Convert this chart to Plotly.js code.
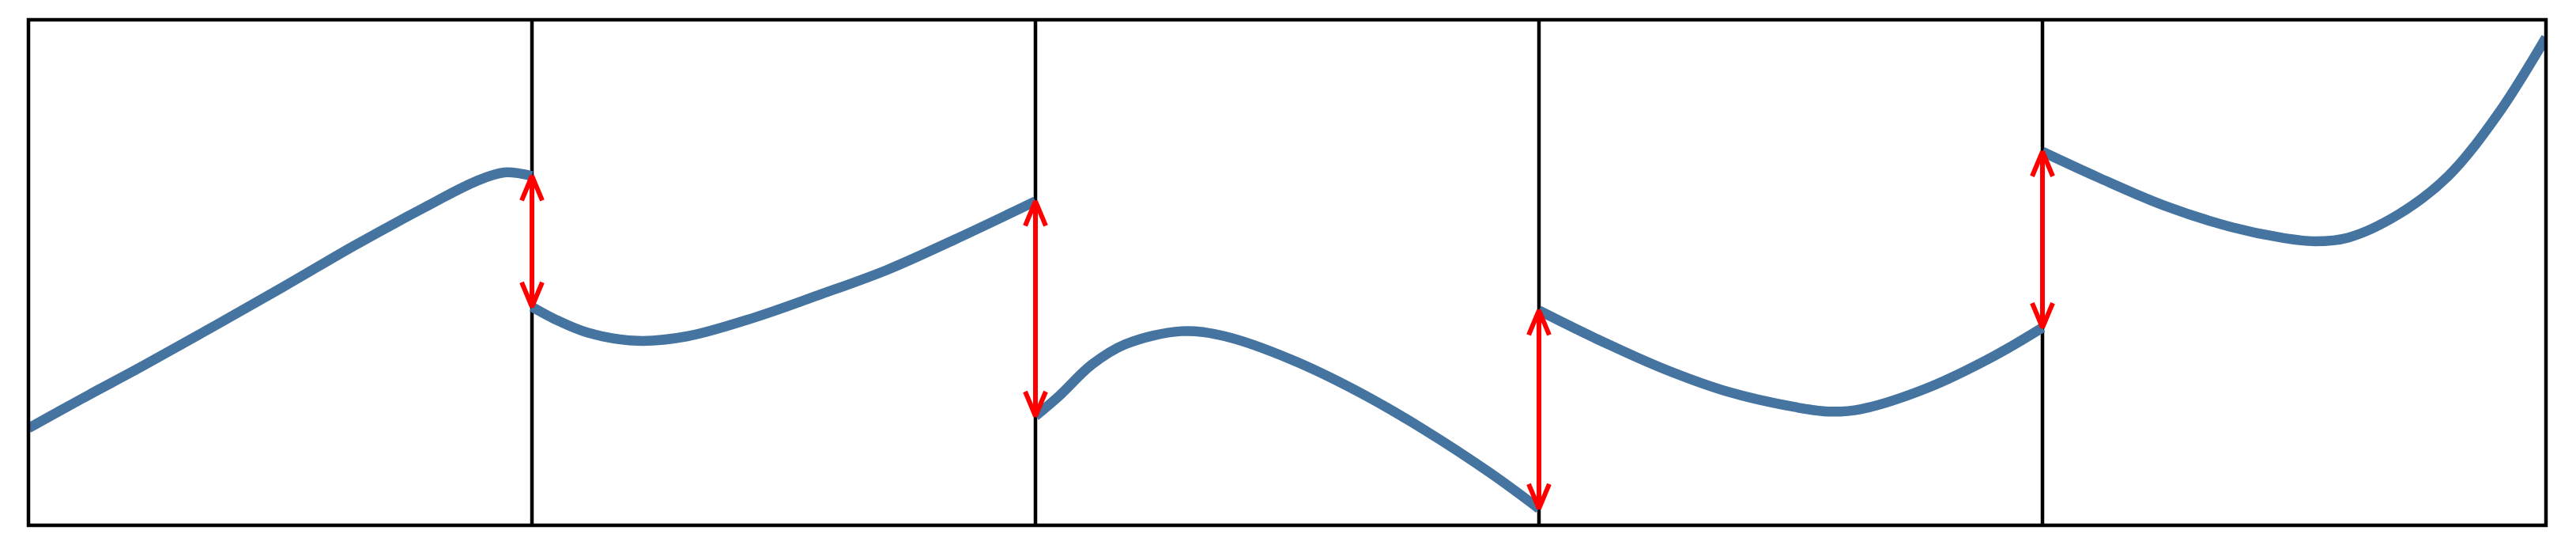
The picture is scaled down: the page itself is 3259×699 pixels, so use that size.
<!DOCTYPE html>
<html>
<head>
<meta charset="utf-8">
<script src="https://cdn.plot.ly/plotly-3.0.1.min.js"></script>
<style>
  html, body { margin: 0; padding: 0; background: #ffffff; }
  #chart { width: 3259px; height: 699px; }
</style>
</head>
<body>
<div id="chart"></div>
<script>
// ---- data ----
// position inside each panel (0 = left edge, 1 = right edge) and curve value (0 = bottom, 1 = top)
const seg1U = [0, 0.12, 0.225, 0.505, 0.645, 0.785, 0.890, 0.945, 1.0];
const seg1Y = [0.192, 0.258, 0.314, 0.471, 0.552, 0.628, 0.681, 0.698, 0.691];

const seg2U = [0, 0.045, 0.111, 0.210, 0.309, 0.442, 0.574, 0.707, 0.839, 1.0];
const seg2Y = [0.432, 0.408, 0.381, 0.365, 0.374, 0.411, 0.457, 0.506, 0.565, 0.641];

const seg3U = [0, 0.046, 0.112, 0.178, 0.290, 0.376, 0.508, 0.640, 0.772, 0.904, 1.0];
const seg3Y = [0.216, 0.255, 0.318, 0.358, 0.384, 0.374, 0.328, 0.265, 0.189, 0.103, 0.033];

const seg4U = [0, 0.112, 0.244, 0.376, 0.508, 0.574, 0.640, 0.772, 0.904, 1.0];
const seg4Y = [0.425, 0.370, 0.311, 0.264, 0.234, 0.225, 0.230, 0.272, 0.335, 0.391];

const seg5U = [0, 0.111, 0.243, 0.375, 0.475, 0.541, 0.607, 0.707, 0.806, 0.905, 1.0];
const seg5Y = [0.739, 0.688, 0.632, 0.590, 0.569, 0.562, 0.569, 0.615, 0.691, 0.814, 0.965];

const segmentsU = [seg1U, seg2U, seg3U, seg4U, seg5U];
const segmentsY = [seg1Y, seg2Y, seg3Y, seg4Y, seg5Y];

// ---- style ----
const W = 3259, H = 699;
const M = {l: 36, r: 38, t: 25, b: 35};
const plotW = W - M.l - M.r, plotH = H - M.t - M.b;
const nPanels = segmentsU.length;
const yMin = 0, yMax = 1;
const curveColor = 'rgb(69,116,160)';
const arrowColor = '#ff0000';
const curveWidth = 12.5, arrowWidth = 6, frameWidth = 4.5;
const headHalfPx = 13, headLenPx = 31;

const traces = [];
// curve segments, one per panel
segmentsU.forEach((us, i) => {
  traces.push({
    type: 'scatter', mode: 'lines',
    x: us.map(u => i + u), y: segmentsY[i],
    line: {color: curveColor, width: curveWidth, shape: 'spline', smoothing: 1},
    hoverinfo: 'skip', showlegend: false
  });
});

// double-headed arrows at each jump: from the end of one segment to the start of the next
const dxHead = headHalfPx / plotW * nPanels;
const dyHead = headLenPx / plotH * (yMax - yMin);
for (let k = 1; k < nPanels; k++) {
  const yA = segmentsY[k - 1][segmentsY[k - 1].length - 1];
  const yB = segmentsY[k][0];
  const sA = yA > yB ? -1 : 1;
  const sB = -sA;
  traces.push({
    type: 'scatter', mode: 'lines',
    x: [k, k, null, k - dxHead, k, k + dxHead, null, k - dxHead, k, k + dxHead],
    y: [yA, yB, null, yA + sA * dyHead, yA, yA + sA * dyHead, null, yB + sB * dyHead, yB, yB + sB * dyHead],
    line: {color: arrowColor, width: arrowWidth},
    hoverinfo: 'skip', showlegend: false
  });
}

const shapes = [];
for (let k = 1; k < nPanels; k++) {
  shapes.push({type: 'line', xref: 'x', yref: 'paper', x0: k, x1: k, y0: 0, y1: 1,
    line: {color: '#000000', width: frameWidth}, layer: 'below'});
}
shapes.push({type: 'rect', xref: 'paper', yref: 'paper', x0: 0, x1: 1, y0: 0, y1: 1,
  line: {color: '#000000', width: frameWidth}, fillcolor: 'rgba(0,0,0,0)', layer: 'above'});

const layout = {
  width: W, height: H,
  margin: M,
  paper_bgcolor: '#ffffff', plot_bgcolor: '#ffffff',
  showlegend: false,
  xaxis: {range: [0, nPanels], showgrid: false, zeroline: false, showticklabels: false, ticks: '', showline: false, fixedrange: true},
  yaxis: {range: [yMin, yMax], showgrid: false, zeroline: false, showticklabels: false, ticks: '', showline: false, fixedrange: true},
  shapes: shapes
};

Plotly.newPlot('chart', traces, layout, {staticPlot: true, displayModeBar: false});
</script>
</body>
</html>
